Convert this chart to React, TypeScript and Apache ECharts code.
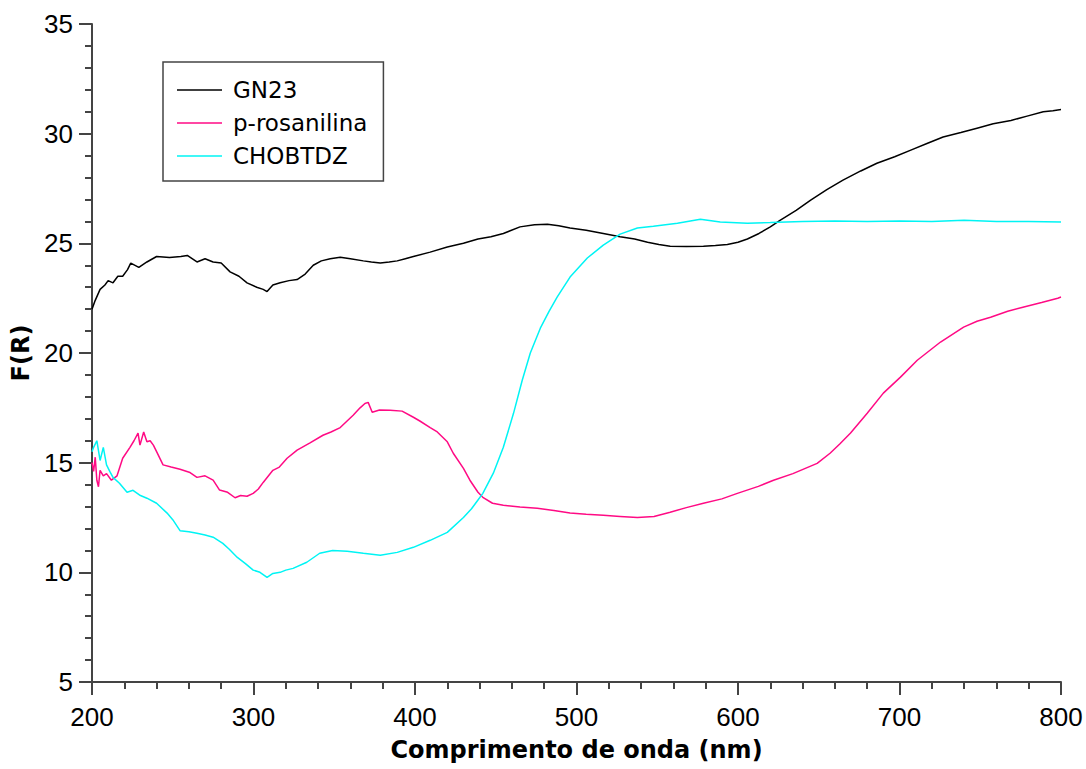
import React, { useEffect, useRef } from "react";
import * as echarts from "echarts";

const gn23X = [200, 202, 205, 208, 210, 213, 216, 219, 222, 224, 229, 234, 240, 248, 255, 259, 265, 270, 275, 280, 285.5, 291, 296, 302, 306, 308.4, 312, 316.5, 322, 327, 332, 337, 342, 347.5, 353.7, 360, 368, 373, 378.5, 384, 389, 394, 399, 409.4, 420, 430, 439, 447, 454.7, 465, 474, 482, 489, 496, 506, 516.6, 527, 536, 544, 551, 558, 568, 578.6, 586, 593.4, 600, 605.8, 613, 620, 626, 636, 645, 655, 665, 676, 686, 697, 707, 717, 727, 738, 748, 758, 769, 779, 789, 795, 800];
const gn23Y = [22.0, 22.4, 22.9, 23.1, 23.3, 23.2, 23.5, 23.5, 23.8, 24.1, 23.9, 24.15, 24.4, 24.35, 24.4, 24.45, 24.15, 24.3, 24.15, 24.1, 23.7, 23.5, 23.2, 23.0, 22.9, 22.8, 23.1, 23.2, 23.3, 23.35, 23.6, 24.0, 24.2, 24.3, 24.37, 24.3, 24.2, 24.15, 24.1, 24.15, 24.2, 24.3, 24.4, 24.6, 24.83, 25.0, 25.2, 25.3, 25.45, 25.75, 25.85, 25.87, 25.8, 25.7, 25.6, 25.45, 25.3, 25.2, 25.05, 24.95, 24.87, 24.85, 24.87, 24.9, 24.95, 25.05, 25.2, 25.45, 25.75, 26.05, 26.5, 26.97, 27.45, 27.88, 28.3, 28.65, 28.95, 29.25, 29.55, 29.85, 30.05, 30.25, 30.45, 30.6, 30.8, 31.0, 31.05, 31.1];

const rosX = [200, 201, 202, 203, 204, 205, 207, 209, 212, 215.5, 219, 223.5, 226, 228.5, 229.7, 232, 234, 236, 238, 240, 244, 249, 254.5, 260.7, 265, 270, 275, 279, 284, 288.6, 292, 296, 299.8, 303, 306, 312, 316, 320.8, 327, 335, 343, 348, 353.7, 361.7, 366, 369, 371, 373.5, 378, 384.6, 392, 399, 403, 409.4, 413.8, 420, 423.7, 430, 434, 439, 442, 448, 454.7, 465, 475.7, 486, 496, 506, 516.6, 527, 537.7, 548, 558, 568, 578.6, 590, 599.6, 612.6, 622, 634, 649, 657, 663, 669.7, 680, 690, 700.6, 711, 725.4, 739.7, 748, 756.4, 767, 777, 788, 798, 800];
const rosY = [15.0, 14.6, 15.25, 14.2, 13.9, 14.65, 14.4, 14.5, 14.2, 14.4, 15.2, 15.7, 16.0, 16.35, 15.8, 16.4, 15.95, 16.0, 15.8, 15.5, 14.9, 14.8, 14.7, 14.55, 14.33, 14.4, 14.2, 13.75, 13.65, 13.4, 13.5, 13.47, 13.6, 13.8, 14.1, 14.65, 14.8, 15.2, 15.57, 15.9, 16.25, 16.4, 16.6, 17.16, 17.5, 17.7, 17.75, 17.3, 17.4, 17.39, 17.35, 17.07, 16.9, 16.6, 16.4, 15.95, 15.43, 14.74, 14.2, 13.65, 13.42, 13.15, 13.06, 12.98, 12.92, 12.82, 12.7, 12.65, 12.6, 12.55, 12.5, 12.55, 12.74, 12.95, 13.15, 13.35, 13.6, 13.92, 14.2, 14.5, 14.97, 15.43, 15.85, 16.35, 17.25, 18.17, 18.9, 19.67, 20.5, 21.18, 21.45, 21.63, 21.9, 22.1, 22.3, 22.5, 22.55];

const choX = [200, 201, 203, 205, 207, 209, 211, 213, 217, 221.7, 225.4, 230, 234, 240, 246.5, 250, 254.5, 260, 265, 270, 275, 281, 285, 290, 295, 299.8, 304, 308.4, 312, 316.5, 320, 324.5, 333, 341, 349, 358, 368, 378.5, 389, 399, 409.4, 420, 430, 435, 439, 442, 448.5, 454.7, 461, 466.4, 471.4, 477.6, 483, 488, 496, 506.7, 516.6, 527, 537.7, 547.6, 562.5, 576.7, 589, 605.8, 620, 640, 660, 680, 700, 720, 740, 760, 780, 800];
const choY = [15.5, 15.7, 16.0, 15.1, 15.7, 14.9, 14.6, 14.33, 14.06, 13.65, 13.74, 13.5, 13.38, 13.15, 12.7, 12.4, 11.9, 11.85, 11.78, 11.7, 11.6, 11.32, 11.05, 10.68, 10.4, 10.1, 10.0, 9.77, 9.95, 10.0, 10.1, 10.18, 10.46, 10.87, 11.0, 10.96, 10.87, 10.78, 10.91, 11.14, 11.46, 11.82, 12.5, 12.9, 13.3, 13.6, 14.52, 15.7, 17.25, 18.76, 20.0, 21.13, 21.9, 22.55, 23.46, 24.33, 24.92, 25.42, 25.7, 25.78, 25.92, 26.1, 25.97, 25.92, 25.95, 26.0, 26.02, 26.0, 26.02, 26.0, 26.05, 26.0, 26.0, 25.97];

const seriesNames = ["GN23", "p-rosanilina", "CHOBTDZ"];
const seriesColors = ["#000000", "#ff0a84", "#00f4f4"];

const pairs = (xs: number[], ys: number[]) => xs.map((x, i) => [x, ys[i]]);

export default function App() {
  const ref = useRef<HTMLDivElement>(null);
  useEffect(() => {
    if (!ref.current) return;
    const chart = echarts.init(ref.current, undefined, { renderer: "svg" });
    const axisColor = "#444444";
    const datasets = [pairs(gn23X, gn23Y), pairs(rosX, rosY), pairs(choX, choY)];
    chart.setOption({
      animation: false,
      backgroundColor: "#ffffff",
      grid: { left: 92, right: 25, top: 24, bottom: 87, containLabel: false },
      legend: {
        orient: "vertical",
        left: 163,
        top: 62,
        padding: [16, 16, 13, 14],
        icon: "rect",
        itemWidth: 45,
        itemHeight: 1.5,
        itemGap: 9,
        borderColor: "#444444",
        borderWidth: 1.5,
        textStyle: { fontFamily: "DejaVu Sans", fontSize: 23, color: "#000", lineHeight: 24, padding: [0, 0, 0, 6] },
        data: seriesNames,
      },
      xAxis: {
        type: "value",
        min: 200,
        max: 800,
        interval: 100,
        name: "Comprimento de onda (nm)",
        nameLocation: "middle",
        nameGap: 56,
        nameTextStyle: { fontFamily: "DejaVu Sans", fontWeight: "bold", fontSize: 24, color: "#000" },
        axisLine: { lineStyle: { color: axisColor, width: 2 } },
        axisTick: { show: true, inside: false, length: 13, lineStyle: { color: axisColor, width: 2 } },
        minorTick: { show: true, splitNumber: 5, length: 7, lineStyle: { color: axisColor, width: 2 } },
        axisLabel: { fontFamily: "Liberation Sans", fontSize: 26, color: "#000", margin: 22 },
        splitLine: { show: false },
      },
      yAxis: {
        type: "value",
        min: 5,
        max: 35,
        interval: 5,
        name: "F(R)",
        nameLocation: "middle",
        nameGap: 56,
        nameRotate: 90,
        nameTextStyle: { fontFamily: "DejaVu Sans", fontWeight: "bold", fontSize: 24, color: "#000" },
        axisLine: { show: true, lineStyle: { color: axisColor, width: 2 } },
        axisTick: { show: true, inside: false, length: 13, lineStyle: { color: axisColor, width: 2 } },
        minorTick: { show: true, splitNumber: 5, length: 7, lineStyle: { color: axisColor, width: 2 } },
        axisLabel: { fontFamily: "Liberation Sans", fontSize: 26, color: "#000", margin: 19 },
        splitLine: { show: false },
      },
      series: seriesNames.map((name, i) => ({
        name,
        type: "line",
        data: datasets[i],
        symbol: "none",
        showSymbol: false,
        lineStyle: { color: seriesColors[i], width: 1.5 },
        itemStyle: { color: seriesColors[i] },
      })),
    });
    return () => chart.dispose();
  }, []);
  return (
    <div
      ref={ref}
      style={{ position: "absolute", left: 0, top: 0, width: 1086, height: 769, background: "#fff" }}
    />
  );
}
